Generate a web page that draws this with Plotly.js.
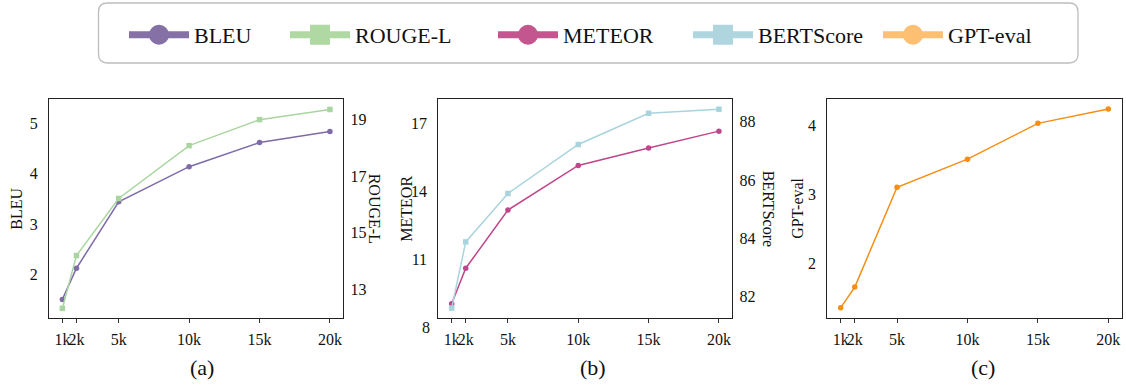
<!DOCTYPE html>
<html>
<head>
<meta charset="utf-8">
<script src="https://cdn.plot.ly/plotly-3.0.1.min.js"></script>
<style>html,body{margin:0;padding:0;background:#fff;}#chart{width:1126px;height:387px;}</style>
</head>
<body>
<div id="chart"></div>
<script>
// ---- data ----
const steps = [1000, 2000, 5000, 10000, 15000, 20000];
const stepLabels = ['1k', '2k', '5k', '10k', '15k', '20k'];
const bleu = [1.50, 2.12, 3.44, 4.14, 4.62, 4.84];
const rougeL = [12.32, 14.19, 16.21, 18.08, 19.00, 19.36];
const meteor = [9.07, 10.63, 13.19, 15.15, 15.92, 16.66];
const bertScore = [81.61, 83.88, 85.54, 87.22, 88.29, 88.43];
const gptEval = [1.35, 1.65, 3.10, 3.51, 4.03, 4.24];
const seriesNames = ['BLEU', 'ROUGE-L', 'METEOR', 'BERTScore', 'GPT-eval'];
const panelLabels = ['(a)', '(b)', '(c)'];

// ---- styling ----
const W = 1126, H = 387;
const px = v => v / W;
const py = v => 1 - v / H;
const FONT = "Liberation Serif, Times New Roman, Times, serif";
const lineCols = ['#7e6ba8', '#a9d6a0', '#c0468b', '#a9d4de', '#f68e14'];
const legCols = ['#8571a6', '#b0d8a2', '#c4568f', '#afd6df', '#fdbf72'];
const symbols = ['circle', 'square', 'circle', 'square', 'circle'];

function tr(y, xa, ya, i) {
  return {x: steps, y: y, xaxis: xa, yaxis: ya, type: 'scatter', mode: 'lines+markers',
    line: {color: lineCols[i], width: 1.5}, marker: {color: lineCols[i], size: 5.5, symbol: symbols[i]},
    showlegend: false, cliponaxis: false, name: seriesNames[i]};
}
const data = [
  tr(rougeL, 'x', 'y2', 1),
  tr(bleu, 'x', 'y', 0),
  tr(bertScore, 'x2', 'y4', 3),
  tr(meteor, 'x2', 'y3', 2),
  tr(gptEval, 'x3', 'y5', 4)
];
// empty helper traces so the overlay label axes get drawn
[['x4', 'y'], ['x5', 'y3'], ['x6', 'y5']].forEach(p => data.push({x: [null], y: [null], xaxis: p[0], yaxis: p[1],
  type: 'scatter', mode: 'markers', showlegend: false, hoverinfo: 'skip'}));
// legend-only entries
const legendIds = ['legend', 'legend2', 'legend3', 'legend4', 'legend5'];
seriesNames.forEach((n, i) => {
  data.push({x: [null], y: [null], xaxis: 'x', yaxis: 'y', type: 'scatter', mode: 'lines+markers', name: n,
    line: {color: legCols[i], width: 7},
    marker: {color: legCols[i], size: 20, symbol: symbols[i], line: {color: legCols[i], width: 4}},
    showlegend: true, legend: legendIds[i]});
});

const xRange = [50, 20950];
const yDom = [py(318), py(99.3)];
const TICKFONT = {family: FONT, size: 16, color: '#111'};
// main x axis: ticks at every step, labels from 2k on (shifted a little right)
function xax(d0, d1, anchor) {
  return {domain: [px(d0), px(d1)], range: xRange, anchor: anchor, tickvals: steps,
    ticktext: stepLabels.map((t, i) => i === 0 ? '' : t),
    tickangle: 0, ticks: 'outside', ticklen: 4, tickwidth: 1, tickcolor: '#333', showline: true, mirror: true,
    linecolor: '#222', linewidth: 1, showgrid: false, zeroline: false, ticklabelstandoff: 3, ticklabelshift: 1.5,
    tickfont: TICKFONT};
}
// overlay x axis carrying only the first label (shifted a little left, as in the source)
function xaxFirst(d0, d1, anchor, over) {
  return {domain: [px(d0), px(d1)], range: xRange, anchor: anchor, overlaying: over, side: 'bottom',
    tickvals: steps.slice(0, 1), ticktext: stepLabels.slice(0, 1), tickangle: 0, ticks: 'outside', ticklen: 4,
    tickwidth: 1, tickcolor: '#333', showline: false, showgrid: false, zeroline: false,
    ticklabelstandoff: 3, ticklabelshift: -1.5, tickfont: TICKFONT};
}
function yax(range, ticks, anchor, side, overlay) {
  const a = {range: range, tickvals: ticks, anchor: anchor, side: side, domain: yDom, ticks: '',
    showgrid: false, zeroline: false, showline: true, linecolor: '#222', linewidth: 1,
    tickfont: TICKFONT, ticklabelstandoff: side === 'left' ? 7 : 3};
  if (overlay) { a.overlaying = overlay; } else { a.mirror = true; }
  return a;
}

const textStarts = [196, 357, 565, 760, 950];
const layout = {
  width: W, height: H, margin: {l: 0, r: 0, t: 0, b: 0}, paper_bgcolor: '#fff', plot_bgcolor: '#fff',
  font: {family: FONT, color: '#111'},
  xaxis: xax(49, 343.3, 'y'),
  xaxis2: xax(438.3, 732.3, 'y3'),
  xaxis3: xax(827.3, 1121.7, 'y5'),
  xaxis4: xaxFirst(49, 343.3, 'y', 'x'),
  xaxis5: xaxFirst(438.3, 732.3, 'y3', 'x2'),
  xaxis6: xaxFirst(827.3, 1121.7, 'y5', 'x3'),
  yaxis: yax([1.13, 5.48], [2, 3, 4, 5], 'x', 'left'),
  yaxis2: yax([11.98, 19.72], [13, 15, 17, 19], 'x', 'right', 'y'),
  yaxis3: yax([8.44, 18.06], [8, 11, 14, 17], 'x2', 'left'),
  yaxis4: yax([81.27, 88.77], [82, 84, 86, 88], 'x2', 'right', 'y3'),
  yaxis5: yax([1.20, 4.38], [2, 3, 4], 'x3', 'left'),
  annotations: [],
  shapes: []
};
legendIds.forEach((id, i) => {
  layout[id] = {x: px(textStarts[i] - 72), xanchor: 'left', y: py(35), yanchor: 'middle', orientation: 'h',
    bgcolor: 'rgba(0,0,0,0)', borderwidth: 0, itemwidth: 60, itemclick: false, itemdoubleclick: false,
    font: {family: FONT, size: 22, color: '#111'}};
});
// axis titles
const yTitles = [
  ['BLEU', 17, -90], ['ROUGE-L', 374, 90], ['METEOR', 407, -90], ['BERTScore', 768, 90], ['GPT-eval', 798, -90]
];
yTitles.forEach(t => layout.annotations.push({text: t[0], xref: 'paper', yref: 'paper', x: px(t[1]), y: py(208.7),
  xanchor: 'center', yanchor: 'middle', showarrow: false, textangle: t[2], font: {family: FONT, size: 16, color: '#111'}}));
// panel labels
[202, 593, 983].forEach((x, i) => layout.annotations.push({text: panelLabels[i], xref: 'paper', yref: 'paper',
  x: px(x), y: py(367), xanchor: 'center', yanchor: 'middle', showarrow: false, font: {family: FONT, size: 22, color: '#111'}}));
// tick label 8 that sits below the METEOR axis range
layout.annotations.push({text: '8', xref: 'paper', yref: 'paper', x: px(432), y: py(327.3), xanchor: 'right',
  yanchor: 'middle', showarrow: false, font: TICKFONT});
// rounded legend frame
(function () {
  const x0 = 98.5, x1 = 1078, y0 = 3, y1 = 63, r = 9;
  const X = v => px(v), Y = v => py(v);
  const path = `M${X(x0 + r)},${Y(y0)} L${X(x1 - r)},${Y(y0)} Q${X(x1)},${Y(y0)} ${X(x1)},${Y(y0 + r)} ` +
    `L${X(x1)},${Y(y1 - r)} Q${X(x1)},${Y(y1)} ${X(x1 - r)},${Y(y1)} L${X(x0 + r)},${Y(y1)} ` +
    `Q${X(x0)},${Y(y1)} ${X(x0)},${Y(y1 - r)} L${X(x0)},${Y(y0 + r)} Q${X(x0)},${Y(y0)} ${X(x0 + r)},${Y(y0)} Z`;
  layout.shapes.push({type: 'path', xref: 'paper', yref: 'paper', path: path, line: {color: '#bdbdbd', width: 1.3}, layer: 'below'});
})();

Plotly.newPlot('chart', data, layout, {staticPlot: true, displayModeBar: false});
</script>
</body>
</html>
